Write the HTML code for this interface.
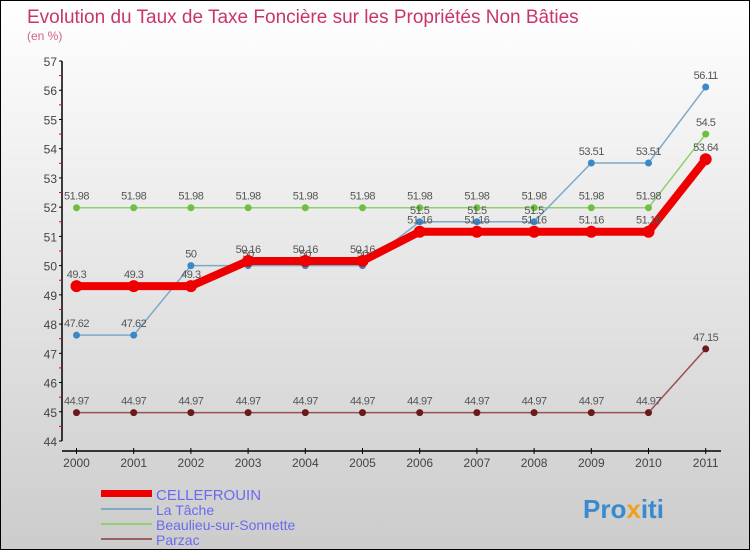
<!DOCTYPE html>
<html><head><meta charset="utf-8"><style>
body{margin:0}
#c{width:748px;height:548px;border:1px solid #000;background:linear-gradient(#fff,#ccc);position:relative;font-family:"Liberation Sans",sans-serif;overflow:hidden}
text{font-family:"Liberation Sans",sans-serif}
</style></head><body>
<div id="c">
<svg width="748" height="548" id="svg">
<text x="26" y="22" font-size="19" fill="#c8356e">Evolution du Taux de Taxe Foncière sur les Propriétés Non Bâties</text>
<text x="26" y="39" font-size="12" fill="#d0608a">(en %)</text>
<g id="axes"></g><g id="series"></g>
<g>
<rect x="100" y="489" width="51" height="7" fill="#e00"/>
<text x="155" y="499" font-size="15" fill="#6a6aee">CELLEFROUIN</text>
<rect x="100" y="507" width="51" height="2" fill="#7ea8c8"/>
<text x="155" y="514" font-size="14" fill="#6a6aee">La Tâche</text>
<rect x="100" y="522" width="51" height="2" fill="#90d070"/>
<text x="155" y="529" font-size="14" fill="#6a6aee">Beaulieu-sur-Sonnette</text>
<rect x="100" y="537" width="51" height="2" fill="#9a6060"/>
<text x="155" y="544" font-size="14" fill="#6a6aee">Parzac</text>
</g>
<text x="582" y="517" font-size="26" font-weight="bold" fill="#3a8ad0">Pro<tspan fill="#f0a020">x</tspan>iti</text>
</svg></div>
<script>
const years=["2000","2001","2002","2003","2004","2005","2006","2007","2008","2009","2010","2011"];
const cellefrouin=[49.3,49.3,49.3,50.16,50.16,50.16,51.16,51.16,51.16,51.16,51.16,53.64];
const latache=[47.62,47.62,50,50,50,50,51.5,51.5,51.5,53.51,53.51,56.11];
const beaulieu=[51.98,51.98,51.98,51.98,51.98,51.98,51.98,51.98,51.98,51.98,51.98,54.5];
const parzac=[44.97,44.97,44.97,44.97,44.97,44.97,44.97,44.97,44.97,44.97,44.97,47.15];
const yTicks=[44,45,46,47,48,49,50,51,52,53,54,55,56,57];
const NS="http://www.w3.org/2000/svg";
const X=i=>75.5+i*57.2, Y=v=>440-(v-44)*(380/13);
function mk(p,t,a){const e=document.createElementNS(NS,t);for(const k in a)e.setAttribute(k,a[k]);p.appendChild(e);return e;}
const ax=document.getElementById('axes');
const yl=mk(ax,'line',{x1:61,y1:60,x2:61,y2:440,stroke:'#000','stroke-width':1.5});


yTicks.forEach(v=>{mk(ax,'line',{x1:58,x2:61,y1:Y(v),y2:Y(v),stroke:'#000'});
if(v<57)mk(ax,'line',{x1:58,x2:61,y1:Y(v+0.5),y2:Y(v+0.5),stroke:'#e00'});
const t=mk(ax,'text',{x:56,y:Y(v)+5,'text-anchor':'end','font-size':12,fill:'#444'});t.textContent=v;

});
const xl=mk(ax,'line',{x1:61,y1:450,x2:720,y2:450,stroke:'#000','stroke-width':1.5});


years.forEach((y,i)=>{mk(ax,'line',{x1:X(i),x2:X(i),y1:447,y2:453,stroke:'#000'});
const t=mk(ax,'text',{x:X(i),y:466,'text-anchor':'middle','font-size':12,fill:'#444'});t.textContent=y;

});
const sg=document.getElementById('series');
function ser(d,name,col,w,r,pt){
const g=mk(sg,'g',{});


mk(g,'polyline',{points:d.map((v,i)=>X(i)+','+Y(v)).join(' '),fill:'none',stroke:col,'stroke-width':w,'stroke-linejoin':'round'});
d.forEach((v,i)=>{mk(g,'circle',{cx:X(i),cy:Y(v),r:r,fill:pt});
const t=mk(g,'text',{x:X(i),y:Y(v)-8,'text-anchor':'middle','font-size':11,fill:'#555','letter-spacing':'-0.5'});t.textContent=v;});}
ser(parzac,'series-parzac','#9a5050',1.5,3.5,'#6a1a1a');
ser(beaulieu,'series-beaulieu','#90d070',1.5,3.5,'#70c040');
ser(latache,'series-la-tache','#7ea8c8',1.5,3.5,'#3a88c8');
ser(cellefrouin,'series-cellefrouin','#e00',8,6,'#e00');
</script>
</body></html>
